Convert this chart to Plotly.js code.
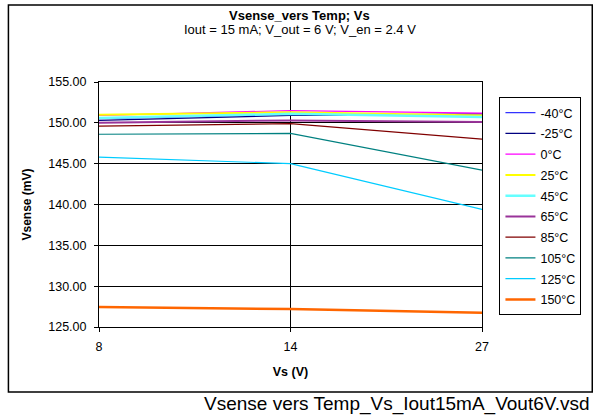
<!DOCTYPE html>
<html>
<head>
<meta charset="utf-8">
<script src="https://cdn.plot.ly/plotly-3.0.1.min.js"></script>
<style>html,body{margin:0;padding:0;background:#fff;}#chart{width:593px;height:415px;}</style>
</head>
<body>
<div id="chart"></div>
<script>
const vsCategories = ['8', '14', '27'];
const seriesNames = ['-40°C', '-25°C', '0°C', '25°C', '45°C', '65°C', '85°C', '105°C', '125°C', '150°C'];
const vM40 = [150.5, 151.0, 150.9];
const vM25 = [150.3, 150.9, 151.1];
const v0 = [150.9, 151.5, 151.2];
const v25 = [151.0, 151.3, 150.9];
const v45 = [150.6, 151.1, 150.7];
const v65 = [150.0, 150.3, 150.1];
const v85 = [149.6, 149.9, 148.0];
const v105 = [148.6, 148.7, 144.2];
const v125 = [145.8, 145.0, 139.4];
const v150 = [127.45, 127.2, 126.75];
const yTicks = [125, 130, 135, 140, 145, 150, 155];

const seriesValues = [vM40, vM25, v0, v25, v45, v65, v85, v105, v125, v150];
const colors = ['#3333FF', '#000080', '#FF00FF', '#FFFF00', '#66FFFF', '#993399', '#800000', '#008080', '#00CCFF', '#FF6600'];
const widths = [1.2, 1.2, 1.2, 2, 2.5, 2, 1.2, 1.2, 1.2, 2.5];

const W = 593, H = 415, L = 99, R = 488, T = 82, B = 327;
const px = x => (x - L) / (R - L);
const py = y => (B - y) / (B - T);

const traces = seriesNames.map((n, i) => ({
  type: 'scatter', mode: 'lines', name: n, legendgroup: 'g' + i,
  x: vsCategories, y: seriesValues[i],
  line: {color: colors[i], width: widths[i]}
}));

const font = {family: 'Liberation Sans, Arial, sans-serif', color: '#000'};
const f = s => Object.assign({size: s}, font);

const layout = {
  width: W, height: H,
  margin: {l: L, r: W - R, t: T, b: H - B, pad: 0},
  paper_bgcolor: '#fff', plot_bgcolor: '#fff',
  font: f(12),
  showlegend: true,
  legend: {
    x: px(589), y: py(97), xanchor: 'right', yanchor: 'top',
    bordercolor: '#000', borderwidth: 1, bgcolor: '#fff',
    font: f(12.5), itemwidth: 30, tracegroupgap: 1.5
  },
  xaxis: {
    type: 'category', categoryorder: 'array', categoryarray: vsCategories,
    range: [0, 2], showgrid: true, gridcolor: '#000', gridwidth: 1,
    showline: true, linecolor: '#000', linewidth: 1, mirror: true,
    ticks: 'outside', ticklen: 4, tickcolor: '#000', ticklabelstandoff: 4,
    tickfont: f(12.5), zeroline: false,
    title: {text: '<b>Vs (V)</b>', font: f(12.5), standoff: 14}
  },
  yaxis: {
    range: [125, 155], tickvals: yTicks, ticktext: yTicks.map(v => v.toFixed(2)),
    showgrid: true, gridcolor: '#000', gridwidth: 1,
    showline: true, linecolor: '#000', linewidth: 1, mirror: true,
    ticks: 'outside', ticklen: 4, tickcolor: '#000', ticklabelstandoff: 5,
    tickfont: f(12.5), zeroline: false,
    title: {text: '<b>Vsense (mV)</b>', font: f(12), standoff: 14}
  },
  shapes: [{
    type: 'rect', xref: 'paper', yref: 'paper',
    x0: px(7), x1: px(600), y0: py(392), y1: py(5),
    line: {color: '#000', width: 1.5}, fillcolor: 'rgba(0,0,0,0)', layer: 'below'
  }],
  annotations: [
    {xref: 'paper', yref: 'paper', x: px(303), y: py(15), text: '<b>Vsense_vers Temp; Vs</b>',
      showarrow: false, font: f(13), xanchor: 'center', yanchor: 'middle'},
    {xref: 'paper', yref: 'paper', x: px(303), y: py(29), text: 'Iout = 15 mA; V_out = 6 V; V_en = 2.4 V',
      showarrow: false, font: f(13), xanchor: 'center', yanchor: 'middle'},
    {xref: 'paper', yref: 'paper', x: px(600), y: py(404), text: 'Vsense vers Temp_Vs_Iout15mA_Vout6V.vsd',
      showarrow: false, font: f(19), xanchor: 'right', yanchor: 'middle'}
  ]
};

Plotly.newPlot('chart', traces, layout, {displayModeBar: false, staticPlot: true});
</script>
</body>
</html>
